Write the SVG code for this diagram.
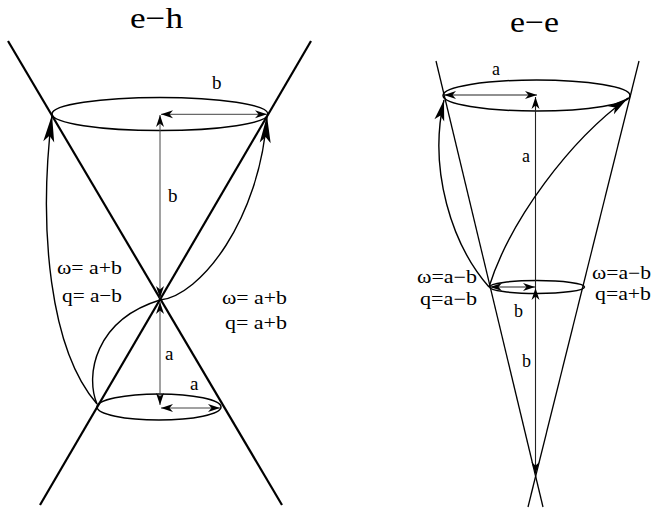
<svg xmlns="http://www.w3.org/2000/svg" width="653" height="508" viewBox="0 0 653 508">
<defs>
<style>
text{font-family:"Liberation Serif","Times New Roman",serif;fill:#000}
.t{font-size:30px}
.l{font-size:19px}
.r{font-size:18px}
.cone1{stroke:#000;stroke-width:2.2;fill:none}
.cone2{stroke:#000;stroke-width:1.3;fill:none}
.ell{stroke:#000;stroke-width:1.5;fill:none}
.curve{stroke:#000;stroke-width:1.4;fill:none}
.thin{stroke:#444;stroke-width:1;fill:none}
.thin2{stroke:#222;stroke-width:1.1;fill:none}
.dbl{marker-start:url(#sm);marker-end:url(#sm)}
</style>
<marker id="sm" markerUnits="userSpaceOnUse" orient="auto-start-reverse" markerWidth="14" markerHeight="10" viewBox="-12 -5 14 10" refX="0" refY="0" overflow="visible">
<path d="M0,0 L-12,-4 L-8.5,0 L-12,4 Z" fill="#000"/>
</marker>
<marker id="big" markerUnits="userSpaceOnUse" orient="auto" markerWidth="30" markerHeight="14" viewBox="-28 -7 30 14" refX="0" refY="0" overflow="visible">
<path d="M0,0 L-27,-5.5 L-21,0 L-27,5.5 Z" fill="#000"/>
</marker>
<marker id="med" markerUnits="userSpaceOnUse" orient="auto" markerWidth="24" markerHeight="12" viewBox="-22 -6 24 12" refX="0" refY="0" overflow="visible">
<path d="M0,0 L-21,-5 L-16,0 L-21,5 Z" fill="#000"/>
</marker>
</defs>

<g id="eh-title"><text class="t" x="130" y="28" textLength="53" lengthAdjust="spacingAndGlyphs">e−h</text></g>
<g id="ee-title"><text class="t" x="510" y="32" textLength="49" lengthAdjust="spacingAndGlyphs">e−e</text></g>

<g id="eh-cone">
<line class="cone1" x1="8" y1="41" x2="282" y2="505"/>
<line class="cone1" x1="311" y1="41" x2="40" y2="505"/>
</g>
<g id="eh-upper-ellipse"><ellipse class="ell" cx="160" cy="114" rx="108" ry="16.5"/></g>
<g id="eh-lower-ellipse"><ellipse class="ell" cx="159" cy="407" rx="62" ry="13"/></g>

<g id="ee-cone">
<line class="cone2" x1="436" y1="61" x2="543" y2="507"/>
<line class="cone2" x1="639" y1="61" x2="528" y2="507"/>
</g>
<g id="ee-upper-ellipse"><ellipse class="ell" cx="536.5" cy="95.5" rx="93.5" ry="15.5"/></g>
<g id="ee-lower-ellipse"><ellipse class="ell" cx="537" cy="287" rx="47.5" ry="6.5"/></g>

<g id="connectors">
<line class="thin dbl" x1="160" y1="298" x2="160" y2="115"/>
<line class="thin dbl" x1="161" y1="114.3" x2="267" y2="114.3"/>
<line class="thin dbl" x1="160" y1="302" x2="160" y2="405"/>
<line class="thin dbl" x1="161" y1="408" x2="220" y2="408"/>
<path class="curve" d="M97,404 C50,350 38,230 52,115" marker-end="url(#big)"/>
<path class="curve" d="M97,404 C85,375 95,320 160,300 C200,296 260,220 267,116" marker-end="url(#big)"/>

<line class="thin2 dbl" x1="444" y1="95" x2="537" y2="95"/>
<line class="thin2" x1="535.5" y1="288" x2="535.5" y2="97" marker-end="url(#sm)"/>
<line class="thin2 dbl" x1="535.5" y1="474" x2="535.5" y2="288"/>
<line class="thin2 dbl" x1="490" y1="287" x2="535" y2="287"/>
<path class="curve" d="M489,287 C452,245 428,170 444,100" marker-end="url(#med)"/>
<path class="curve" d="M489,287 C510,220 570,140 628,98" marker-end="url(#med)"/>
</g>

<g id="eh-labels">
<text class="l" x="212" y="89">b</text>
<text class="l" x="168" y="202">b</text>
<text class="l" x="165" y="360">a</text>
<text class="l" x="190" y="390">a</text>
<text class="l" x="57" y="274" textLength="65" lengthAdjust="spacingAndGlyphs">ω= a+b</text>
<text class="l" x="62" y="302" textLength="60" lengthAdjust="spacingAndGlyphs">q= a−b</text>
<text class="l" x="222" y="304" textLength="65" lengthAdjust="spacingAndGlyphs">ω= a+b</text>
<text class="l" x="225" y="329" textLength="62" lengthAdjust="spacingAndGlyphs">q= a+b</text>
</g>

<g id="ee-labels">
<text class="r" x="492" y="75">a</text>
<text class="r" x="522" y="162">a</text>
<text class="r" x="514" y="317">b</text>
<text class="r" x="522" y="367">b</text>
<text class="r" x="417" y="283" textLength="60" lengthAdjust="spacingAndGlyphs">ω=a−b</text>
<text class="r" x="420" y="305" textLength="57" lengthAdjust="spacingAndGlyphs">q=a−b</text>
<text class="r" x="592" y="279" textLength="59" lengthAdjust="spacingAndGlyphs">ω=a−b</text>
<text class="r" x="595" y="300" textLength="56" lengthAdjust="spacingAndGlyphs">q=a+b</text>
</g>
</svg>
